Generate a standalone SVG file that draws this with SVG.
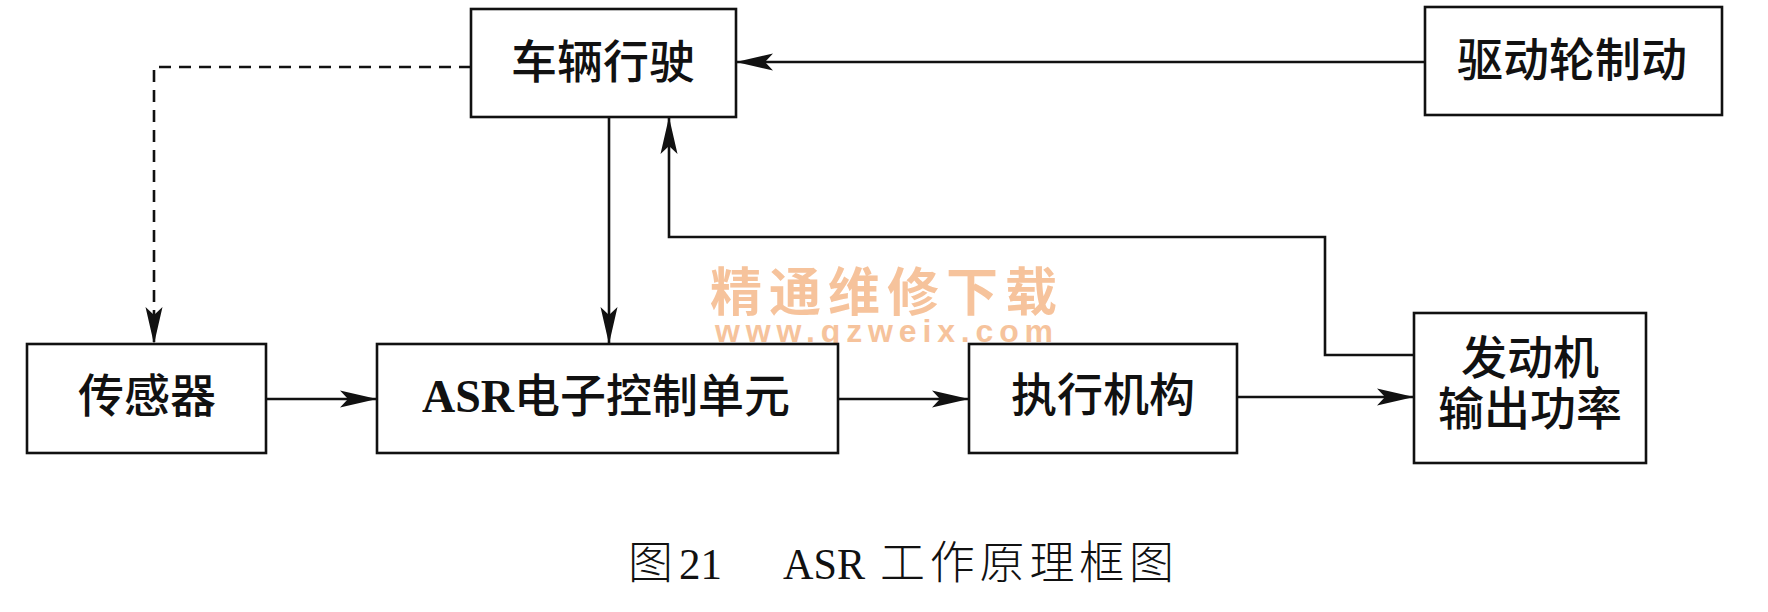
<svg xmlns="http://www.w3.org/2000/svg" width="1768" height="612" viewBox="0 0 1768 612">
<style>
.box{fill:#fff;stroke:#111;stroke-width:2.6}
.lbl{font-family:"Noto Sans CJK SC","Noto Sans",sans-serif;font-size:46px;font-weight:500;fill:#111;text-anchor:middle}
.ln{fill:none;stroke:#111;stroke-width:2.6}
.dash{stroke-dasharray:12 8}
.wm{fill:#f6c39c}
</style>
<defs>
<marker id="ah" markerUnits="userSpaceOnUse" markerWidth="40" markerHeight="20" viewBox="-38 -10 40 20" refX="0" refY="0" orient="auto">
<path d="M0,0 L-37,-8.5 L-29,0 L-37,8.5 Z" fill="#111"/>
</marker>
</defs>
<rect width="1768" height="612" fill="#fff"/>
<g id="watermark">
<text class="wm" x="710" y="311" font-family="'Noto Sans CJK SC',sans-serif" font-weight="bold" font-size="52" letter-spacing="7">精通维修下载</text>
<text class="wm" x="715" y="342" font-family="'Liberation Sans',Arial,sans-serif" font-weight="bold" font-size="32" textLength="338" lengthAdjust="spacing">www.gzweix.com</text>
</g>
<g id="connectors">
<path class="ln" d="M1425,62 L736,62" marker-end="url(#ah)"/>
<path class="ln dash" d="M471,67 L154,67 L154,344" marker-end="url(#ah)"/>
<path class="ln" d="M609,117 L609,344" marker-end="url(#ah)"/>
<path class="ln" d="M1414,355 L1325,355 L1325,237 L669,237 L669,117" marker-end="url(#ah)"/>
<path class="ln" d="M266,399 L377,399" marker-end="url(#ah)"/>
<path class="ln" d="M838,399 L969,399" marker-end="url(#ah)"/>
<path class="ln" d="M1237,397 L1414,397" marker-end="url(#ah)"/>
</g>
<g id="node-vehicle">
<rect class="box" x="471" y="9" width="265" height="108"/>
<text class="lbl" x="603" y="78">车辆行驶</text>
</g>
<g id="node-brake">
<rect class="box" x="1425" y="7" width="297" height="108"/>
<text class="lbl" x="1572" y="76">驱动轮制动</text>
</g>
<g id="node-sensor">
<rect class="box" x="27" y="344" width="239" height="109"/>
<text class="lbl" x="147" y="412">传感器</text>
</g>
<g id="node-ecu">
<rect class="box" x="377" y="344" width="461" height="109"/>
<text class="lbl" x="606" y="412"><tspan font-family="'Liberation Serif','Times New Roman',serif" font-weight="bold">ASR</tspan>电子控制单元</text>
</g>
<g id="node-actuator">
<rect class="box" x="969" y="344" width="268" height="109"/>
<text class="lbl" x="1103" y="411">执行机构</text>
</g>
<g id="node-engine">
<rect class="box" x="1414" y="313" width="232" height="150"/>
<text class="lbl" x="1530" y="374">发动机</text>
<text class="lbl" x="1530" y="425">输出功率</text>
</g>
<g id="caption" fill="#111">
<text x="628" y="579" font-family="'Noto Sans CJK SC',sans-serif" font-weight="300" font-size="45">图</text>
<text x="679" y="579" font-family="'Liberation Serif','Times New Roman',serif" font-size="45" textLength="43" lengthAdjust="spacingAndGlyphs">21</text>
<text x="783" y="579" font-family="'Liberation Serif','Times New Roman',serif" font-size="45" textLength="82" lengthAdjust="spacingAndGlyphs">ASR</text>
<text x="880" y="579" font-family="'Noto Sans CJK SC',sans-serif" font-weight="300" font-size="45" letter-spacing="4.8">工作原理框图</text>
</g>
</svg>
